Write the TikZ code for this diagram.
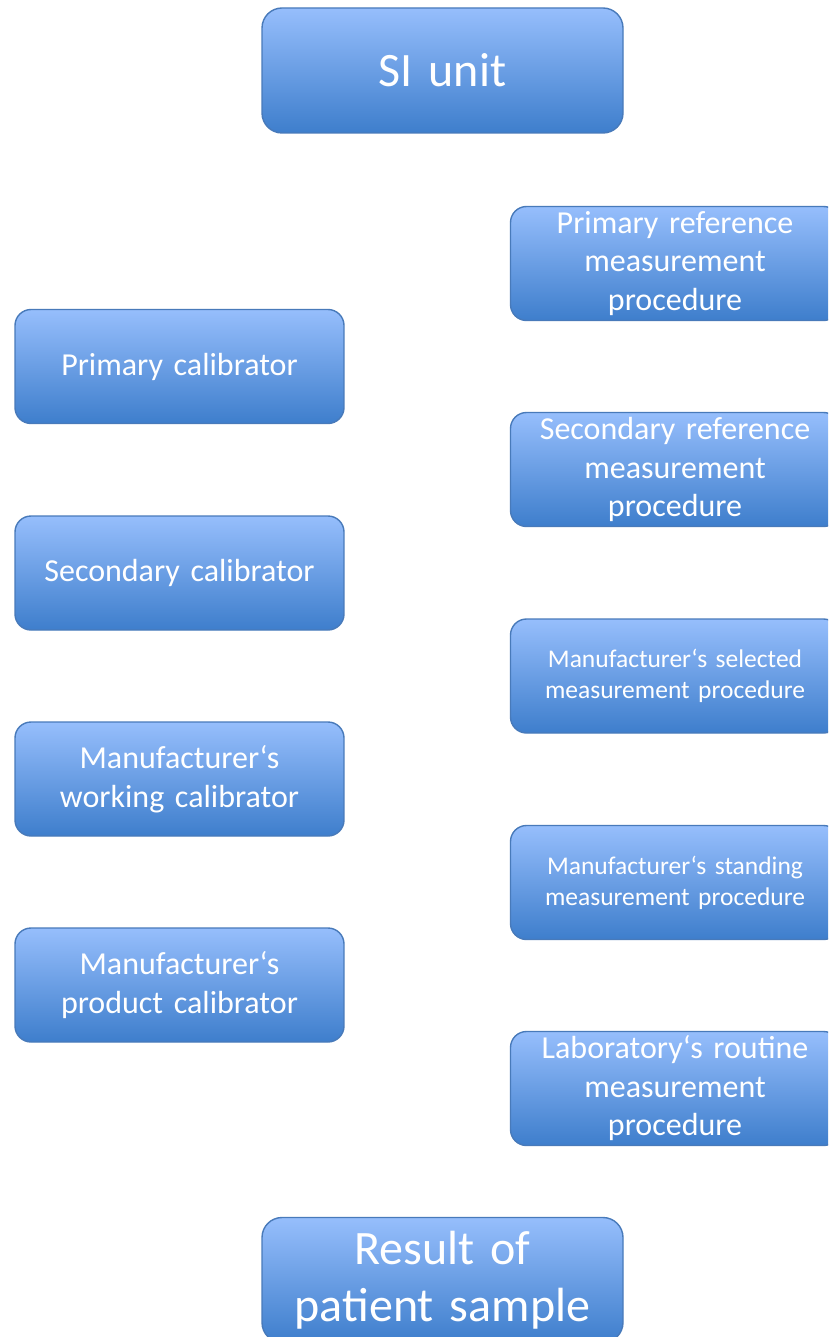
\documentclass[tikz,border=0pt]{standalone}
\usepackage{fontspec}
\setmainfont{Carlito}
\definecolor{boxtop}{RGB}{150,190,252}
\definecolor{boxbot}{RGB}{62,126,204}
\definecolor{boxline}{RGB}{72,122,186}
\tikzset{
  box/.style={draw=boxline, line width=1.4pt, rounded corners=16pt,
    top color=boxtop, bottom color=boxbot, text=white, inner sep=0pt,
    minimum width=329pt, minimum height=114pt, text width=320pt, align=center,
    font=\fontsize{32}{38.5}\selectfont},
  smallbox/.style={box, font=\fontsize{25.5}{31}\selectfont},
  bigbox/.style={box, rounded corners=20pt, minimum width=361pt, minimum height=125pt,
    text width=350pt, font=\fontsize{48}{57}\selectfont}
}
\begin{document}
\begin{tikzpicture}[x=1pt, y=-1pt]
  \useasboundingbox (0,0) rectangle (828,1337);
  \clip (0,0) rectangle (828,1337);
  \node[bigbox] (si) at (442.5,70.5) {SI unit};
  \node[bigbox] (res) at (442.5,1280) {Result of\\patient sample};
  % calibrators
  \node[box] (pc) at (179.5,366.5) {Primary calibrator};
  \node[box] (sc) at (179.5,573) {Secondary calibrator};
  \node[box] (wc) at (179.5,779) {Manufacturer‘s\\working calibrator};
  \node[box] (prc) at (179.5,985) {Manufacturer‘s\\product calibrator};
  % procedures
  \node[box] (prm) at (675,263.5) {Primary reference\\measurement\\procedure};
  \node[box] (srm) at (675,469.5) {Secondary reference\\measurement\\procedure};
  \node[smallbox] (msm) at (675,676) {Manufacturer‘s selected\\measurement procedure};
  \node[smallbox] (mst) at (675,882.5) {Manufacturer‘s standing\\measurement procedure};
  \node[box] (lrm) at (675,1088.5) {Laboratory‘s routine\\measurement\\procedure};
\end{tikzpicture}
\end{document}
